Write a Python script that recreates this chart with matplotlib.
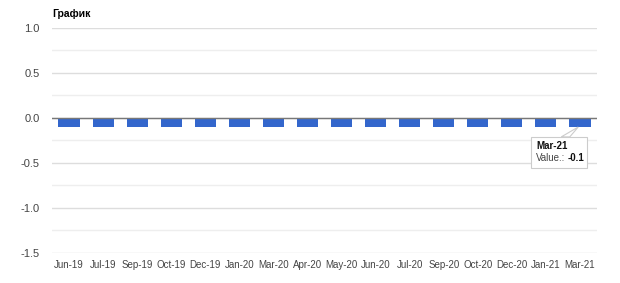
import matplotlib
matplotlib.use('Agg')
import matplotlib.pyplot as plt
from matplotlib.patches import Rectangle, Polygon
import numpy as np

plt.rcParams['font.family'] = ['Liberation Sans', 'DejaVu Sans']

# data
months = ['Jun-19', 'Jul-19', 'Sep-19', 'Oct-19', 'Dec-19', 'Jan-20', 'Mar-20', 'Apr-20',
          'May-20', 'Jun-20', 'Jul-20', 'Sep-20', 'Oct-20', 'Dec-20', 'Jan-21', 'Mar-21']
values = [-0.1] * 16
yticks = [1.0, 0.5, 0.0, -0.5, -1.0, -1.5]

fig = plt.figure(figsize=(6.2, 2.83), dpi=100)
ax = fig.add_axes([52/620, 1-253/283, 545/620, 225/283])

x = np.arange(len(months))
ax.bar(x, values, width=0.62, color='#3366cc', zorder=3)

ax.set_xlim(-0.5, len(months) - 0.5)
ax.set_ylim(-1.5, 1.0)
ax.set_yticks(yticks)
ax.set_yticklabels(['%.1f' % v for v in yticks])
ax.set_yticks(np.arange(-1.25, 1.0, 0.5), minor=True)
ax.set_xticks(x)
ax.set_xticklabels(months)

ax.grid(axis='y', which='major', color='#dddddd', lw=1, zorder=0)
ax.grid(axis='y', which='minor', color='#eeeeee', lw=1, zorder=0)
ax.axhline(0, color='#777777', lw=1, zorder=4)
for s in ax.spines.values():
    s.set_visible(False)
ax.tick_params(axis='both', which='both', length=0, labelsize=8, labelcolor='#444444')
ax.tick_params(axis='y', pad=9)
ax.tick_params(axis='x', pad=5)
for lab in ax.get_xticklabels():
    lab.set_fontsize(7)

fig.text(52/620, 1-14/283, 'График', fontsize=7.5, fontweight='bold', va='center', ha='left')

# tooltip for the last bar
last = len(months) - 1
ax.add_patch(Polygon([[last - 0.05, values[last]], [last - 0.55, -0.21], [last - 0.3, -0.21]],
                     closed=True, fc='white', ec='#cccccc', lw=0.8, zorder=5))
ax.add_patch(Rectangle((last - 1.44, -0.556), 1.65, 0.345, fc='white', ec='#cccccc', lw=0.8, zorder=6))
ax.text(last - 1.29, -0.311, months[last], fontsize=7, fontweight='bold', va='center', ha='left',
        color='#111111', zorder=7)
ax.text(last - 1.29, -0.444, 'Value.:', fontsize=7, va='center', ha='left',
        color='#444444', zorder=7)
ax.text(last - 0.35, -0.444, '-0.1', fontsize=7, fontweight='bold', va='center', ha='left',
        color='#111111', zorder=7)

fig.savefig('out.png', dpi=100)
